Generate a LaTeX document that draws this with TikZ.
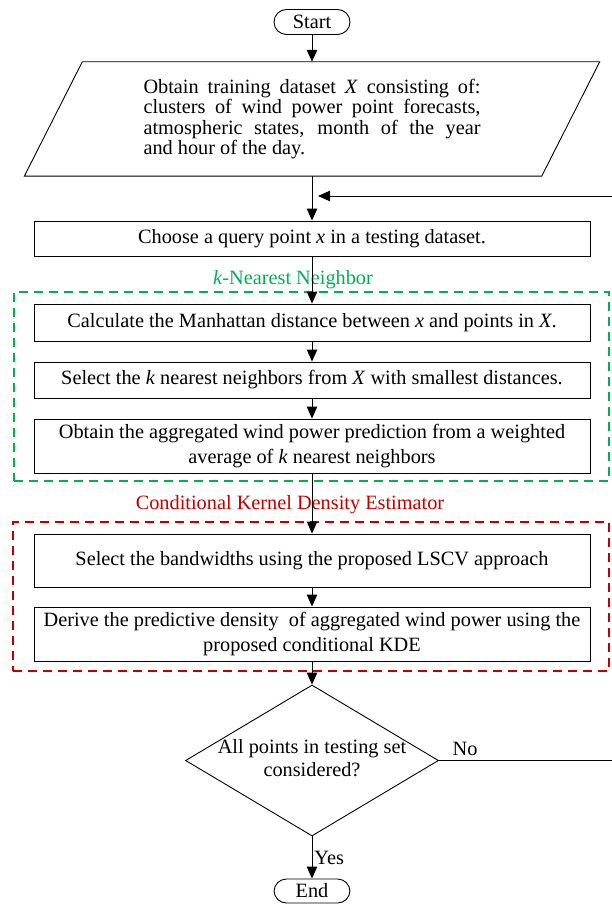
\documentclass[tikz,border=0pt]{standalone}
\usepackage{fontspec}
\setmainfont{Liberation Serif}
\usetikzlibrary{arrows.meta,shapes.geometric,calc}
\definecolor{knngreen}{RGB}{0,176,80}
\definecolor{kdered}{RGB}{192,0,0}

\begin{document}
\begin{tikzpicture}[x=1pt,y=-1pt,
  every node/.style={font=\fontsize{20.3}{25}\selectfont},
  procbox/.style={draw, line width=0.9pt, minimum width=556pt, inner sep=0pt, align=center},
  term/.style={draw, line width=0.9pt, rounded corners=12.5pt, minimum width=76pt,
               minimum height=25pt, inner sep=0pt},
  decision/.style={diamond, draw, line width=0.9pt, aspect=1.675, minimum width=253pt,
                   minimum height=151pt, inner sep=0pt, font=\fontsize{20.3}{23}\selectfont},
  flow/.style={line width=0.9pt, -{Triangle[length=12pt,width=10.5pt]}},
  plain/.style={line width=0.9pt},
  groupbox/.style={line width=1.4pt, dash pattern=on 9pt off 6pt, inner sep=0pt},
]
\useasboundingbox (0,0) rectangle (611,904);

% start terminal
\node[term] (start) at (312,22) {Start};

% input data (parallelogram)
\node[minimum width=517pt, minimum height=114pt, inner sep=0pt, align=left,
      font=\fontsize{20.3}{20.5}\selectfont] (input) at (312,119)
  {\makebox[337pt][s]{Obtain training dataset \textit{X} consisting of:}\\
   \makebox[337pt][s]{clusters of wind power point forecasts,}\\
   \makebox[337pt][s]{atmospheric states, month of the year}\\
   \makebox[337pt][l]{and hour of the day.}};
\draw[plain] ([xshift=29pt]input.north west) -- ([xshift=29pt]input.north east)
  -- ([xshift=-29pt]input.south east) -- ([xshift=-29pt]input.south west) -- cycle;

% query point
\node[procbox, minimum height=35pt] (choose) at (312,238.5)
  {Choose a query point \textit{x} in a testing dataset.};

% k-nearest neighbour group
\node[groupbox, draw=knngreen, minimum width=595pt, minimum height=189pt] (knn) at (311.5,386.5) {};
\node[text=knngreen] (knnlabel) at (293,280) {\textit{k}-Nearest Neighbor};

\node[procbox, minimum height=37pt] (calc) at (312,322.5)
  {Calculate the Manhattan distance between \textit{x} and points in \textit{X}.};
\node[procbox, minimum height=36pt] (sel) at (312,380)
  {Select the \textit{k} nearest neighbors from \textit{X} with smallest distances.};
\node[procbox, minimum height=54pt] (agg) at (312,446)
  {Obtain the aggregated wind power prediction from a weighted\\average of \textit{k} nearest neighbors};

% conditional KDE group
\node[groupbox, draw=kdered, minimum width=596pt, minimum height=149pt] (kde) at (311,596.5) {};
\node[text=kdered] (kdelabel) at (290,505) {Conditional Kernel Density Estimator};

\node[procbox, minimum height=53pt] (lscv) at (312,560.5)
  {Select the bandwidths using the proposed LSCV approach};
\node[procbox, minimum height=54pt] (derive) at (312,634)
  {Derive the predictive density\ \ of aggregated wind power using the\\proposed conditional KDE};

% decision (text set in a zero-width box so the diamond keeps its fixed size)
\node[decision] (dec) at (312,760.5)
  {\makebox[0pt]{\begin{tabular}{@{}c@{}}All points in testing set\\considered?\end{tabular}}};
\node[term, minimum height=24pt] (end) at (312,891) {End};

% loop-back route
\coordinate (loopR) at (640,760.5);
\coordinate (loopT) at (640,196);
\coordinate (join) at (318,196);

% connectors
\draw[flow] (start) -- (input.north);
\draw[flow] (input.south) -- (choose);
\draw[flow] (choose) -- (calc);
\draw[flow] (calc) -- (sel);
\draw[flow] (sel) -- (agg);
\draw[flow] (agg) -- (lscv);
\draw[flow] (lscv) -- (derive);
\draw[flow] (derive) -- (dec);
\draw[flow] (dec) -- node[right, inner sep=2pt] {Yes} (end);
\draw[plain] (dec.east) -- node[pos=0.13, above=1pt] {No} (loopR) -- (loopT);
\draw[flow] (loopT) -- (join);
\end{tikzpicture}
\end{document}
